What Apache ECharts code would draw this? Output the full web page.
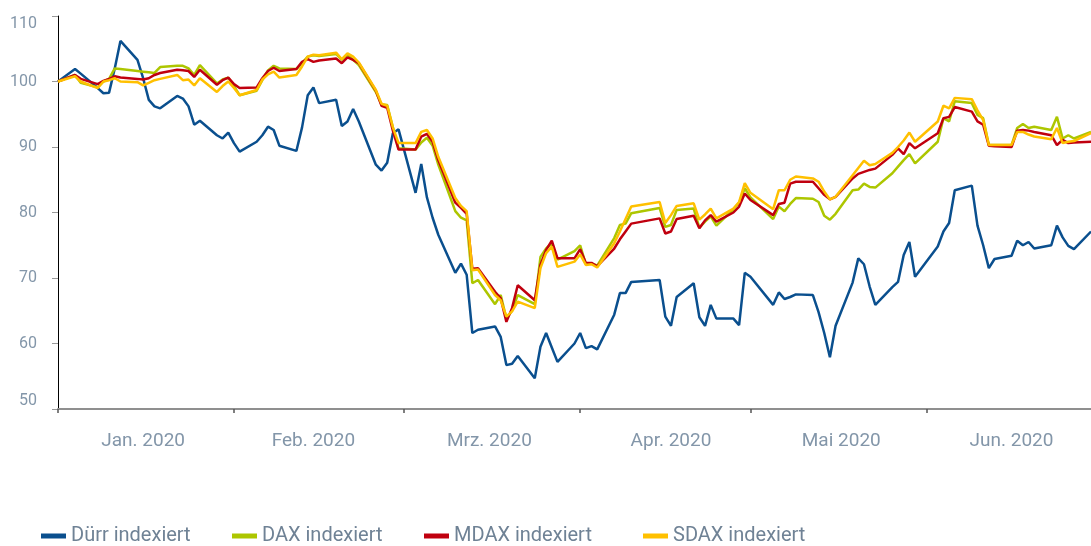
<!DOCTYPE html>
<html>
<head>
<meta charset="utf-8">
<script src="https://cdn.jsdelivr.net/npm/echarts@6/dist/echarts.min.js"></script>
<style>
  html, body { margin: 0; padding: 0; background: #fff; }
  #chart { width: 1091px; height: 546px; }
</style>
</head>
<body>
<div id="chart"></div>
<script>
// Handelstage (Index 30.12.2019 = 100)
var dates = [
  '2019-12-30',
  '2020-01-02','2020-01-03','2020-01-06','2020-01-07','2020-01-08','2020-01-09','2020-01-10',
  '2020-01-13','2020-01-14','2020-01-15','2020-01-16','2020-01-17','2020-01-20','2020-01-21',
  '2020-01-22','2020-01-23','2020-01-24','2020-01-27','2020-01-28','2020-01-29','2020-01-30','2020-01-31',
  '2020-02-03','2020-02-04','2020-02-05','2020-02-06','2020-02-07','2020-02-10','2020-02-11',
  '2020-02-12','2020-02-13','2020-02-14','2020-02-17','2020-02-18','2020-02-19','2020-02-20',
  '2020-02-21','2020-02-24','2020-02-25','2020-02-26','2020-02-27','2020-02-28',
  '2020-03-02','2020-03-03','2020-03-04','2020-03-05','2020-03-06','2020-03-09','2020-03-10',
  '2020-03-11','2020-03-12','2020-03-13','2020-03-16','2020-03-17','2020-03-18','2020-03-19',
  '2020-03-20','2020-03-23','2020-03-24','2020-03-25','2020-03-26','2020-03-27','2020-03-30','2020-03-31',
  '2020-04-01','2020-04-02','2020-04-03','2020-04-06','2020-04-07','2020-04-08','2020-04-09',
  '2020-04-14','2020-04-15','2020-04-16','2020-04-17','2020-04-20','2020-04-21','2020-04-22',
  '2020-04-23','2020-04-24','2020-04-27','2020-04-28','2020-04-29','2020-04-30',
  '2020-05-04','2020-05-05','2020-05-06','2020-05-07','2020-05-08','2020-05-11','2020-05-12',
  '2020-05-13','2020-05-14','2020-05-15','2020-05-18','2020-05-19','2020-05-20','2020-05-21',
  '2020-05-22','2020-05-25','2020-05-26','2020-05-27','2020-05-28','2020-05-29',
  '2020-06-02','2020-06-03','2020-06-04','2020-06-05','2020-06-08','2020-06-09','2020-06-10',
  '2020-06-11','2020-06-12','2020-06-15','2020-06-16','2020-06-17','2020-06-18','2020-06-19',
  '2020-06-22','2020-06-23','2020-06-24','2020-06-25','2020-06-26','2020-06-29'
];

var duerr = [
  100,
  101.9,101.2,99.0,98.2,98.3,102.0,106.2,103.3,100.5,97.2,96.2,95.9,97.8,97.4,96.2,93.4,94.0,91.8,91.3,92.2,90.6,89.3,
  90.8,91.8,93.1,92.6,90.2,89.4,93.0,97.9,99.1,96.7,97.2,93.2,93.9,95.8,93.9,87.3,86.4,87.6,92.1,92.7,
  83.0,87.4,82.3,79.2,76.6,70.8,72.2,70.5,61.6,62.1,62.6,61.0,56.7,56.9,58.1,54.7,59.5,61.6,59.4,57.2,60.0,61.6,
  59.3,59.6,59.1,64.4,67.7,67.7,69.4,69.7,64.1,62.7,67.1,69.2,64.0,62.7,65.9,63.8,63.8,62.8,70.8,70.2,
  65.9,67.8,66.8,67.1,67.5,67.4,64.8,61.6,57.9,62.7,69.3,73.0,72.1,68.7,65.9,68.6,69.4,73.5,75.5,70.2,
  74.8,77.1,78.4,83.4,84.1,78.0,75.0,71.5,72.9,73.4,75.7,75.0,75.5,74.5,75.0,78.0,76.2,74.9,74.4,77.1
];

var dax = [
  100,
  101.0,99.8,99.1,100.0,100.4,102.0,101.9,101.6,101.5,101.4,101.3,102.2,102.4,102.4,102.0,101.0,102.5,99.7,100.3,100.6,99.3,97.9,
  98.6,100.2,101.7,102.4,102.0,101.9,102.8,103.8,104.0,103.9,104.2,103.3,104.1,103.3,102.5,98.4,96.5,96.4,93.0,89.8,
  89.6,90.7,91.4,90.2,87.3,80.2,79.2,78.8,69.2,69.7,66.0,67.4,63.8,65.0,67.4,66.0,73.2,74.5,75.3,72.8,74.1,75.0,
  72.1,72.2,71.9,76.1,78.1,78.3,79.9,80.7,77.8,78.1,80.4,80.6,77.7,78.6,79.4,78.0,80.5,81.5,83.7,82.3,
  79.0,80.9,80.2,81.3,82.2,82.1,81.6,79.5,78.9,79.8,83.4,83.5,84.4,83.9,83.8,86.0,87.0,88.0,88.9,87.5,
  90.8,94.4,93.9,97.0,96.7,94.9,94.4,90.3,90.3,90.3,92.9,93.5,92.9,93.1,92.6,94.6,91.3,91.8,91.3,92.3
];

var mdax = [
  100,
  101.0,100.4,99.6,100.1,100.4,100.8,100.6,100.4,100.3,100.5,101.0,101.3,101.8,101.7,101.6,100.7,101.8,99.5,100.2,100.6,99.6,99.0,
  99.1,100.5,101.6,102.1,101.6,101.9,103.0,103.4,103.0,103.2,103.5,102.8,103.7,103.3,102.8,98.6,96.3,96.0,92.5,89.6,
  89.6,91.6,92.0,90.8,88.0,81.5,80.7,79.8,71.4,71.5,67.9,66.9,63.3,65.4,68.9,66.6,72.0,74.3,75.7,73.0,73.0,74.4,
  72.3,72.3,71.8,74.5,75.9,77.1,78.3,79.1,76.8,77.1,79.0,79.5,77.6,78.8,79.6,78.6,80.0,80.9,82.9,81.9,
  79.6,81.3,81.5,84.4,84.7,84.7,83.7,82.7,82.0,82.4,85.2,85.9,86.2,86.5,86.7,88.8,89.8,88.9,90.6,89.8,
  92.1,94.4,94.6,96.1,95.4,93.9,93.4,90.2,90.1,90.0,92.5,92.6,92.5,92.3,91.8,90.3,91.1,90.6,90.7,90.8
];

var sdax = [
  100,
  100.8,100.0,99.0,100.0,100.2,100.5,100.0,99.9,99.4,99.8,100.2,100.4,101.0,100.2,100.3,99.4,100.5,98.4,99.3,100.0,99.0,97.9,
  98.7,100.3,101.1,101.5,100.6,101.0,102.3,103.8,104.1,104.0,104.4,103.4,104.3,103.8,102.9,98.7,96.6,96.3,93.0,90.6,
  90.6,92.3,92.6,91.3,88.5,82.2,81.0,80.2,71.2,71.3,67.4,66.6,64.1,64.9,66.4,65.4,71.5,73.8,74.8,71.7,72.5,73.6,
  72.0,72.1,71.6,75.3,77.1,79.0,80.9,81.6,78.4,79.6,81.0,81.4,78.9,79.7,80.6,79.1,80.6,81.6,84.5,83.0,
  80.5,83.4,83.4,85.0,85.5,85.2,84.7,83.2,82.0,82.4,85.7,86.8,87.9,87.2,87.4,89.1,90.0,91.0,92.2,90.8,
  93.9,96.3,95.9,97.5,97.3,95.6,94.1,90.3,90.3,90.3,92.3,92.3,91.9,91.6,91.2,92.9,90.6,90.8,90.9,92.1
];

var seriesNames = ['Dürr indexiert', 'DAX indexiert', 'MDAX indexiert', 'SDAX indexiert'];
var seriesValues = [duerr, dax, mdax, sdax];
var seriesColors = ['#0a4f8e', '#adc600', '#c0000f', '#ffc000'];

// Achse: Monatsgrenzen und Monatsbeschriftungen
var tickDates = ['2019-12-30', '2020-01-30', '2020-02-29', '2020-03-31', '2020-04-30', '2020-05-31'];
var labelDates = ['2020-01-14', '2020-02-13', '2020-03-15', '2020-04-16', '2020-05-16', '2020-06-15'];
var monthLabels = ['Jan. 2020', 'Feb. 2020', 'Mrz. 2020', 'Apr. 2020', 'Mai 2020', 'Jun. 2020'];
var yTicks = [50, 60, 70, 80, 90, 100, 110];

function t(s) { return +echarts.time.parse(s); }

var labelColor = '#8396a9';
var legendLeft = [36, 227, 419, 638];

var chart = echarts.init(document.getElementById('chart'), null, { renderer: 'canvas' });

chart.setOption({
  backgroundColor: '#fff',
  animation: false,
  grid: {
    left: 58,
    right: 0,
    top: 16,
    bottom: 137,
    containLabel: false,
    outerBoundsMode: 'none'
  },
  legend: seriesNames.map(function (name, i) {
    return {
      data: [name],
      left: legendLeft[i],
      top: 521,
      icon: 'rect',
      itemWidth: 25,
      itemHeight: 5,
      selectedMode: false,
      textStyle: {
        fontFamily: 'Roboto',
        fontSize: 20,
        color: '#6f8295'
      }
    };
  }),
  xAxis: {
    type: 'value',
    min: t('2019-12-30'),
    max: t('2020-06-29'),
    splitLine: { show: false },
    axisLine: { lineStyle: { color: '#8f8f8f', width: 2 } },
    axisTick: {
      show: true,
      length: 4,
      lineStyle: { color: '#555', width: 1.5 },
      customValues: tickDates.map(t)
    },
    axisLabel: {
      margin: 23,
      fontFamily: 'Roboto',
      fontSize: 19,
      color: labelColor,
      customValues: labelDates.map(t),
      formatter: function (value) {
        return monthLabels[new Date(value).getMonth()];
      }
    }
  },
  yAxis: {
    type: 'value',
    min: yTicks[0],
    max: yTicks[yTicks.length - 1],
    interval: 10,
    splitLine: { show: false },
    axisLine: { show: true, lineStyle: { color: '#000', width: 1 } },
    axisTick: { show: true, length: 6, lineStyle: { color: '#999' } },
    axisLabel: {
      margin: 21,
      fontFamily: 'Roboto',
      fontSize: 16,
      color: labelColor,
      verticalAlignMaxLabel: 'top',
      verticalAlignMinLabel: 'bottom'
    }
  },
  series: seriesNames.map(function (name, i) {
    return {
      name: name,
      type: 'line',
      showSymbol: false,
      symbol: 'none',
      color: seriesColors[i],
      lineStyle: { width: 2.5, color: seriesColors[i] },
      data: dates.map(function (d, k) { return [t(d), seriesValues[i][k]]; })
    };
  })
});
</script>
</body>
</html>
